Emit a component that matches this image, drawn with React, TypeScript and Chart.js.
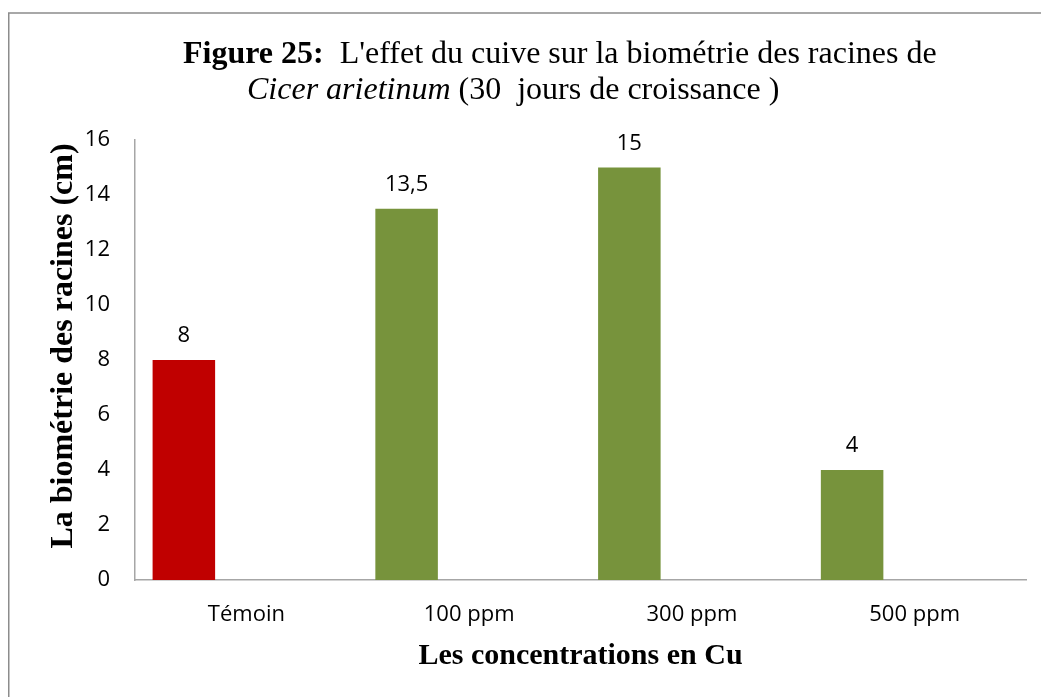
import React, { useEffect, useRef } from 'react';
import { Chart, registerables } from 'chart.js';

Chart.register(...registerables);

// ---- data ----
const categories = ['Témoin', '100 ppm', '300 ppm', '500 ppm'];
const values = [8, 13.5, 15, 4];
const valueLabels = ['8', '13,5', '15', '4'];
const barColors = ['#C00000', '#77933C', '#77933C', '#77933C'];
const emptySeriesA = [null, null, null, null];
const emptySeriesB = [null, null, null, null];
const Y_MIN = 0;
const Y_MAX = 16;
const Y_STEP = 2;

// ---- texts ----
const titleLine1Bold = 'Figure 25:';
const titleLine1Rest = "  L'effet du cuive sur la biométrie des racines de";
const titleLine2Italic = 'Cicer arietinum';
const titleLine2Rest = ' (30  jours de croissance )';
const xTitle = 'Les concentrations en Cu';
const yTitle = 'La biométrie des racines (cm)';

const SERIF = '"Liberation Serif", "Times New Roman", serif';
const SANS = '"Open Sans", sans-serif';

const decorPlugin = {
  id: 'decor',
  beforeDraw(chart: any) {
    const ctx = chart.ctx;
    ctx.save();
    ctx.fillStyle = '#ffffff';
    ctx.fillRect(0, 0, chart.width, chart.height);
    ctx.strokeStyle = '#8c8c8c';
    ctx.lineWidth = 1.5;
    ctx.strokeRect(8.75, 13, chart.width + 50, chart.height + 50);
    ctx.restore();
  },
  afterDatasetsDraw(chart: any) {
    const ctx = chart.ctx;
    const meta = chart.getDatasetMeta(0);
    ctx.save();
    ctx.font = `22px ${SANS}`;
    ctx.fillStyle = '#000000';
    ctx.textAlign = 'center';
    ctx.textBaseline = 'alphabetic';
    meta.data.forEach((bar: any, i: number) => {
      ctx.fillText(valueLabels[i], bar.x, bar.y - 18);
    });
    ctx.restore();
  },
  afterDraw(chart: any) {
    const ctx = chart.ctx;
    ctx.save();
    ctx.fillStyle = '#000000';
    ctx.textBaseline = 'alphabetic';
    ctx.textAlign = 'left';
    // title line 1
    let x = 183;
    ctx.font = `bold 32px ${SERIF}`;
    ctx.fillText(titleLine1Bold, x, 63);
    x += ctx.measureText(titleLine1Bold).width;
    ctx.font = `32px ${SERIF}`;
    ctx.fillText(titleLine1Rest, x, 63);
    // title line 2
    x = 247;
    ctx.font = `italic 32px ${SERIF}`;
    ctx.fillText(titleLine2Italic, x, 99);
    x += ctx.measureText(titleLine2Italic).width;
    ctx.font = `32px ${SERIF}`;
    ctx.fillText(titleLine2Rest, x, 99);
    // y axis title
    ctx.translate(72, 346);
    ctx.rotate(-Math.PI / 2);
    ctx.textAlign = 'center';
    ctx.font = `bold 32px ${SERIF}`;
    ctx.fillText(yTitle, 0, 0);
    ctx.restore();
  },
};

export default function App() {
  const canvasRef = useRef<HTMLCanvasElement | null>(null);

  useEffect(() => {
    const canvas = canvasRef.current;
    if (!canvas) return;
    const chart = new Chart(canvas, {
      type: 'bar',
      data: {
        labels: categories,
        datasets: [
          {
            label: 'Série 1',
            data: values,
            backgroundColor: barColors,
            borderWidth: 0,
            categoryPercentage: 0.842,
            barPercentage: 1.0,
          },
          {
            label: 'Série 2',
            data: emptySeriesA as any,
            backgroundColor: '#77933C',
            categoryPercentage: 0.842,
            barPercentage: 1.0,
          },
          {
            label: 'Série 3',
            data: emptySeriesB as any,
            backgroundColor: '#77933C',
            categoryPercentage: 0.842,
            barPercentage: 1.0,
          },
        ],
      },
      options: {
        responsive: false,
        animation: false,
        layout: { padding: { left: 0, top: 140, right: 15, bottom: 0 } },
        plugins: {
          legend: { display: false },
          tooltip: { enabled: false },
          title: { display: false },
        },
        scales: {
          x: {
            grid: { display: false, drawTicks: false },
            border: { display: true, color: '#a6a6a6', width: 1.5 },
            ticks: {
              color: '#000000',
              font: { family: SANS, size: 22 },
              padding: 22,
              maxRotation: 0,
              autoSkip: false,
            },
            title: {
              display: true,
              text: xTitle,
              color: '#000000',
              font: { family: SERIF, size: 30, weight: 'bold' },
              padding: { top: 4, bottom: 23 },
            },
            afterFit(scale: any) {
              scale.height = 117;
            },
          },
          y: {
            min: Y_MIN,
            max: Y_MAX,
            grid: { display: false, drawTicks: false },
            border: { display: true, color: '#a6a6a6', width: 1.5 },
            ticks: {
              stepSize: Y_STEP,
              color: '#000000',
              font: { family: SANS, size: 22 },
              padding: 25,
            },
            afterFit(scale: any) {
              scale.width = 135;
            },
          },
        },
      },
      plugins: [decorPlugin],
    });
    return () => chart.destroy();
  }, []);

  return (
    <div style={{ position: 'fixed', left: 0, top: 0, width: 1041, height: 697, overflow: 'hidden', background: '#fff' }}>
      <canvas ref={canvasRef} width={1041} height={697} style={{ display: 'block' }} />
    </div>
  );
}
